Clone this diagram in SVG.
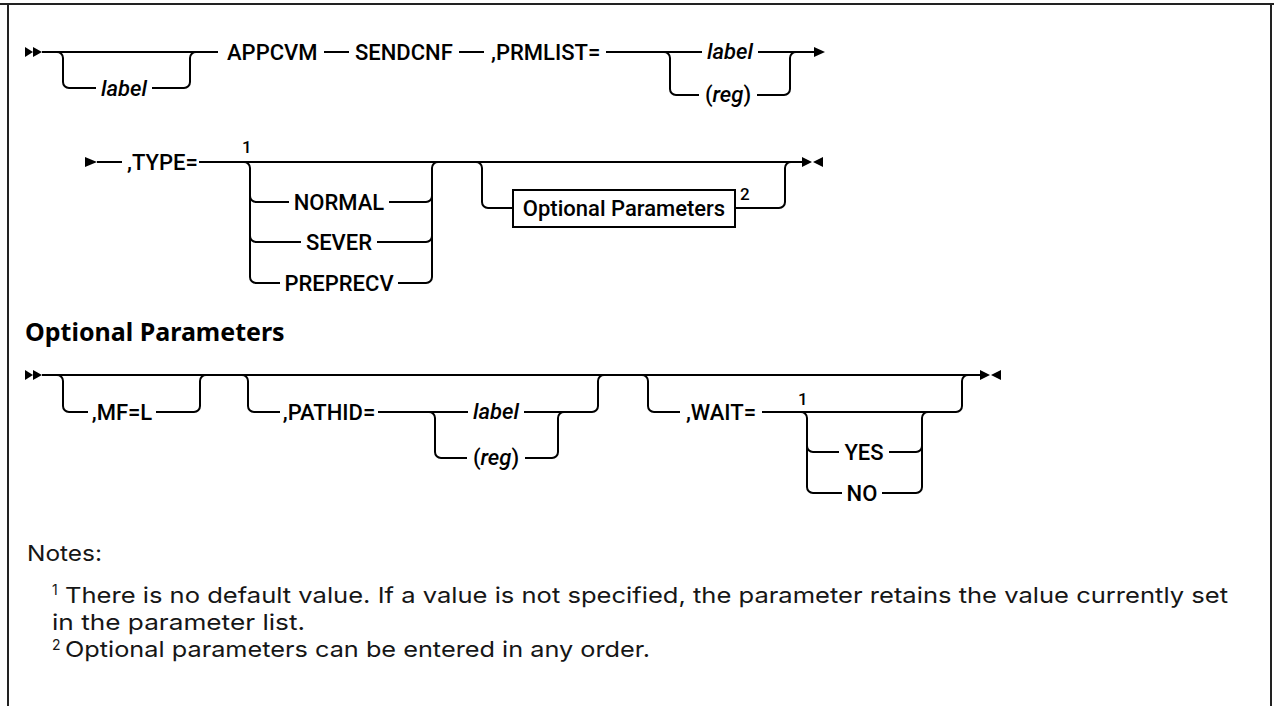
<svg xmlns="http://www.w3.org/2000/svg" width="1274" height="706" viewBox="0 0 1274 706">
<style>
.ln{stroke:#000;stroke-width:2;fill:none}
.ar{fill:#000}
.t{font-family:Roboto,"Liberation Sans",sans-serif;font-size:22px;font-weight:500;fill:#000}
.m{text-anchor:middle}
.i{font-style:italic}
.sup{font-family:Roboto,"Liberation Sans",sans-serif;font-size:17px;font-weight:500;fill:#000}
.hd{font-family:"Noto Sans",sans-serif;font-weight:700;font-size:25px;fill:#000}
.n{font-family:Inter,"Noto Sans",sans-serif;font-size:22px;fill:#161616}
.ns{font-family:Inter,"Noto Sans",sans-serif;font-size:14px;fill:#161616}
.bd{stroke:#222;stroke-width:2;fill:none}
</style>
<g id="frame">
<path class="bd" d="M0 4 H1274 M8 4 V706 M1271 4 V706"/>
</g>
<g id="connectors">
<!-- row 1 -->
<polygon class="ar" points="25,47 33,52 25,57"/>
<polygon class="ar" points="33,47 42,52 33,57"/>
<path class="ln" d="M42 52 H218"/>
<path class="ln" d="M57 52 a6 6 0 0 1 6 6 V82 a6 6 0 0 0 6 6 H96 M152 88 H184 a6 6 0 0 0 6 -6 V58 a6 6 0 0 1 6 -6"/>
<path class="ln" d="M324 52 H349 M459 52 H484 M606 52 H702 M758 52 H814"/>
<path class="ln" d="M664 52 a6 6 0 0 1 6 6 V89 a6 6 0 0 0 6 6 H699 M757 95 H784 a6 6 0 0 0 6 -6 V58 a6 6 0 0 1 6 -6"/>
<polygon class="ar" points="814,47 825,52 814,57"/>
<!-- row 2 -->
<polygon class="ar" points="85,157 97,162 85,167"/>
<path class="ln" d="M97 162 H122 M199 162 H802"/>
<path class="ln" d="M244 162 a6 6 0 0 1 6 6 V277 a6 6 0 0 0 6 6 H280 M398 283 H426 a6 6 0 0 0 6 -6 V168 a6 6 0 0 1 6 -6"/>
<path class="ln" d="M250 196 a6 6 0 0 0 6 6 H289 M389 202 H426 a6 6 0 0 0 6 -6"/>
<path class="ln" d="M250 236 a6 6 0 0 0 6 6 H301 M377 242 H426 a6 6 0 0 0 6 -6"/>
<path class="ln" d="M476 162 a6 6 0 0 1 6 6 V202 a6 6 0 0 0 6 6 H513 M735 208 H779 a6 6 0 0 0 6 -6 V168 a6 6 0 0 1 6 -6"/>
<polygon class="ar" points="802,157 812,162 802,167"/>
<polygon class="ar" points="823,157 813,162 823,167"/>
<!-- row 3 -->
<polygon class="ar" points="25,370 33,375 25,380"/>
<polygon class="ar" points="33,370 42,375 33,380"/>
<path class="ln" d="M42 375 H980"/>
<path class="ln" d="M57 375 a6 6 0 0 1 6 6 V406 a6 6 0 0 0 6 6 H88 M156 412 H194 a6 6 0 0 0 6 -6 V381 a6 6 0 0 1 6 -6"/>
<path class="ln" d="M242 375 a6 6 0 0 1 6 6 V406 a6 6 0 0 0 6 6 H280 M378 412 H468 M524 412 H592 a6 6 0 0 0 6 -6 V381 a6 6 0 0 1 6 -6"/>
<path class="ln" d="M429 412 a6 6 0 0 1 6 6 V452 a6 6 0 0 0 6 6 H467 M525 458 H552 a6 6 0 0 0 6 -6 V418 a6 6 0 0 1 6 -6"/>
<path class="ln" d="M642 375 a6 6 0 0 1 6 6 V406 a6 6 0 0 0 6 6 H680 M762 412 H956 a6 6 0 0 0 6 -6 V381 a6 6 0 0 1 6 -6"/>
<path class="ln" d="M801 412 a6 6 0 0 1 6 6 V487 a6 6 0 0 0 6 6 H842 M882 493 H916 a6 6 0 0 0 6 -6 V418 a6 6 0 0 1 6 -6"/>
<path class="ln" d="M807 446 a6 6 0 0 0 6 6 H839 M889 452 H916 a6 6 0 0 0 6 -6"/>
<polygon class="ar" points="980,370 990,375 980,380"/>
<polygon class="ar" points="1001,370 991,375 1001,380"/>
</g>
<g id="n-label1"><text class="t i m" x="124" y="96">label</text></g>
<g id="n-appcvm"><text class="t" x="227" y="60">APPCVM</text></g>
<g id="n-sendcnf"><text class="t" x="355" y="60">SENDCNF</text></g>
<g id="n-prmlist"><text class="t" x="491" y="60">,PRMLIST=</text></g>
<g id="n-prm-label"><text class="t i m" x="730" y="59">label</text></g>
<g id="n-prm-reg"><text class="t m" x="728" y="102">(<tspan class="i">reg</tspan>)</text></g>
<g id="n-type"><text class="t" x="127" y="170">,TYPE=</text></g>
<g id="n-type-1"><text class="sup" x="242" y="153">1</text></g>
<g id="n-normal"><text class="t m" x="339" y="210">NORMAL</text></g>
<g id="n-sever"><text class="t m" x="339" y="250">SEVER</text></g>
<g id="n-preprecv"><text class="t m" x="339" y="291">PREPRECV</text></g>
<g id="n-optbox"><rect x="513" y="190" width="222" height="37" fill="#fff" stroke="#000" stroke-width="2"/><text class="t m" x="624" y="216">Optional Parameters</text><text class="sup" x="740" y="200">2</text></g>
<g id="heading"><text class="hd" x="25" y="341">Optional Parameters</text></g>
<g id="n-mfl"><text class="t m" x="122" y="420">,MF=L</text></g>
<g id="n-pathid"><text class="t m" x="329" y="420">,PATHID=</text></g>
<g id="n-path-label"><text class="t i m" x="496" y="419">label</text></g>
<g id="n-path-reg"><text class="t m" x="496" y="465">(<tspan class="i">reg</tspan>)</text></g>
<g id="n-wait"><text class="t m" x="721" y="420">,WAIT=</text></g>
<g id="n-wait-1"><text class="sup" x="798" y="405">1</text></g>
<g id="n-yes"><text class="t m" x="864" y="460">YES</text></g>
<g id="n-no"><text class="t m" x="862" y="501">NO</text></g>
<g id="notes">
<text class="n" x="27" y="561" textLength="75" lengthAdjust="spacingAndGlyphs">Notes:</text>
<text class="ns" x="52" y="595">1</text>
<text class="n" x="65" y="603" textLength="1163" lengthAdjust="spacingAndGlyphs">There is no default value. If a value is not specified, the parameter retains the value currently set</text>
<text class="n" x="52" y="630" textLength="253" lengthAdjust="spacingAndGlyphs">in the parameter list.</text>
<text class="ns" x="52" y="650">2</text>
<text class="n" x="65" y="657" textLength="585" lengthAdjust="spacingAndGlyphs">Optional parameters can be entered in any order.</text>
</g>
</svg>
